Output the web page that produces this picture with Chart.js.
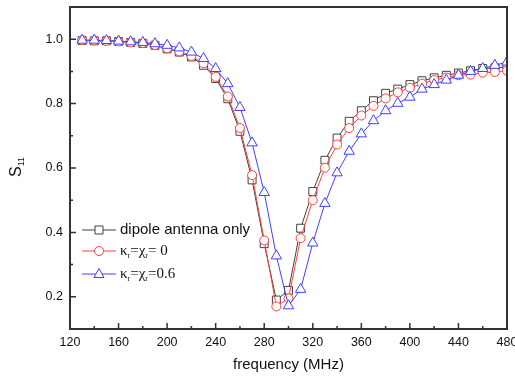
<!DOCTYPE html>
<html>
<head>
<meta charset="utf-8">
<script src="https://cdn.jsdelivr.net/npm/chart.js@4"></script>
<style>
  body { margin: 0; background: #fff; }
  #wrap { width: 515px; height: 377px; }
</style>
</head>
<body>
<div id="wrap"><canvas id="s11Chart" width="515" height="377"></canvas></div>
<script>
const freq = [130, 140, 150, 160, 170, 180, 190, 200, 210, 220, 230, 240, 250, 260, 270, 280, 290, 300,
  310, 320, 330, 340, 350, 360, 370, 380, 390, 400, 410, 420, 430, 440, 450, 460, 470, 480];
const dipoleOnly = [0.996, 0.995, 0.995, 0.993, 0.990, 0.987, 0.981, 0.970, 0.960, 0.945, 0.919, 0.878,
  0.815, 0.714, 0.563, 0.365, 0.190, 0.220, 0.413, 0.527, 0.624, 0.693, 0.745, 0.778, 0.809, 0.832,
  0.845, 0.859, 0.871, 0.880, 0.888, 0.895, 0.902, 0.909, 0.911, 0.914];
const kappaZero = [0.997, 0.996, 0.995, 0.993, 0.990, 0.988, 0.982, 0.972, 0.962, 0.948, 0.925, 0.883,
  0.822, 0.724, 0.578, 0.375, 0.170, 0.195, 0.382, 0.500, 0.601, 0.673, 0.724, 0.763, 0.793, 0.816,
  0.835, 0.849, 0.862, 0.873, 0.881, 0.888, 0.890, 0.896, 0.898, 0.902];
const kappaSix = [0.997, 0.997, 0.996, 0.994, 0.992, 0.990, 0.986, 0.981, 0.973, 0.960, 0.940, 0.909,
  0.862, 0.788, 0.678, 0.524, 0.327, 0.172, 0.223, 0.367, 0.490, 0.585, 0.652, 0.706, 0.747, 0.778,
  0.801, 0.820, 0.845, 0.859, 0.873, 0.888, 0.900, 0.909, 0.919, 0.929];

const xTicks = [120, 160, 200, 240, 280, 320, 360, 400, 440, 480];
const xMinor = [140, 180, 220, 260, 300, 340, 380, 420, 460];
const yTicks = [0.2, 0.4, 0.6, 0.8, 1.0];
const yMinor = [0.3, 0.5, 0.7, 0.9];

const BLACK = "#404040";
const RED = "#ff4040";
const BLUE = "#4040ff";
const AXIS = "#333";
const SANS = "'Liberation Sans', Arial, sans-serif";

function pts(vals) {
  return freq.map((f, i) => ({ x: f, y: vals[i] }));
}

function marker(ctx, style, x, y, color) {
  ctx.save();
  ctx.strokeStyle = color;
  ctx.fillStyle = "#fff";
  ctx.lineWidth = 1;
  ctx.beginPath();
  if (style === "rect") {
    ctx.rect(x - 4, y - 4, 8, 8);
  } else if (style === "circle") {
    ctx.arc(x, y, 4.5, 0, Math.PI * 2);
  } else {
    ctx.moveTo(x, y - 5.5);
    ctx.lineTo(x + 5, y + 3.5);
    ctx.lineTo(x - 5, y + 3.5);
    ctx.closePath();
  }
  ctx.fill();
  ctx.stroke();
  ctx.restore();
}

// text with subscripts: parts = [[text, isSub], ...]
function richText(ctx, parts, x, y, font, subFont) {
  parts.forEach(([t, sub]) => {
    ctx.font = sub ? subFont : font;
    ctx.fillText(t, x, sub ? y + 5 : y);
    x += ctx.measureText(t).width;
  });
}

const decorPlugin = {
  id: "decor",
  afterDatasetsDraw(chart) {
    const { ctx, chartArea: a, scales } = chart;
    const xs = scales.x, ys = scales.y;
    ctx.save();

    // frame
    ctx.strokeStyle = AXIS;
    ctx.lineWidth = 2;
    ctx.strokeRect(a.left, a.top, a.right - a.left, a.bottom - a.top);

    // inward ticks
    ctx.lineWidth = 1.5;
    ctx.beginPath();
    xTicks.forEach((v) => {
      const px = xs.getPixelForValue(v);
      ctx.moveTo(px, a.bottom); ctx.lineTo(px, a.bottom - 6);
    });
    xMinor.forEach((v) => {
      const px = xs.getPixelForValue(v);
      ctx.moveTo(px, a.bottom); ctx.lineTo(px, a.bottom - 3);
    });
    yTicks.forEach((v) => {
      const py = ys.getPixelForValue(v);
      ctx.moveTo(a.left, py); ctx.lineTo(a.left + 6, py);
    });
    yMinor.forEach((v) => {
      const py = ys.getPixelForValue(v);
      ctx.moveTo(a.left, py); ctx.lineTo(a.left + 3, py);
    });
    ctx.stroke();

    // legend
    const items = [
      { y: 230, color: BLACK, style: "rect" },
      { y: 251, color: RED, style: "circle" },
      { y: 274, color: BLUE, style: "triangle" },
    ];
    items.forEach((it) => {
      ctx.strokeStyle = it.color;
      ctx.lineWidth = 1;
      ctx.beginPath();
      ctx.moveTo(82, it.y); ctx.lineTo(116, it.y);
      ctx.stroke();
      marker(ctx, it.style, 99, it.y, it.color);
    });
    ctx.fillStyle = "#111";
    ctx.textBaseline = "middle";
    ctx.textAlign = "left";
    ctx.font = "15px " + SANS;
    ctx.fillText("dipole antenna only", 120, 230);
    const serif = "15px 'Liberation Serif', 'Times New Roman', serif";
    const serifSub = "8px 'Liberation Serif', 'Times New Roman', serif";
    richText(ctx, [["κ", false], ["r", true], ["=χ", false], ["r", true], ["= 0", false]], 120, 251, serif, serifSub);
    richText(ctx, [["κ", false], ["r", true], ["=χ", false], ["r", true], ["=0.6", false]], 120, 274, serif, serifSub);

    // axis titles
    ctx.textAlign = "center";
    ctx.font = "15px " + SANS;
    ctx.fillText("frequency (MHz)", (a.left + a.right) / 2, 365);

    ctx.translate(17, 168);
    ctx.rotate(-Math.PI / 2);
    ctx.textAlign = "left";
    richText(ctx, [["S", false], ["11", true]], -9, 0, "16px " + SANS, "9px " + SANS);
    ctx.restore();
  },
};

const tickFont = { family: SANS, size: 12.5 };

new Chart(document.getElementById("s11Chart"), {
  type: "line",
  data: {
    datasets: [
      {
        label: "dipole antenna only",
        data: pts(dipoleOnly),
        borderColor: BLACK,
        borderWidth: 1,
        pointStyle: "rect",
        pointRadius: 5.6,
        pointBorderColor: BLACK,
        pointBackgroundColor: "#fff",
        pointBorderWidth: 1,
        clip: 0,
        order: 2,
      },
      {
        label: "κr=χr= 0",
        data: pts(kappaZero),
        borderColor: RED,
        borderWidth: 1,
        pointStyle: "circle",
        pointRadius: 4.5,
        pointBorderColor: RED,
        pointBackgroundColor: "#fff",
        pointBorderWidth: 1,
        clip: 0,
        order: 1,
      },
      {
        label: "κr=χr=0.6",
        data: pts(kappaSix),
        borderColor: BLUE,
        borderWidth: 1,
        pointStyle: "triangle",
        pointRadius: 6,
        pointBorderColor: BLUE,
        pointBackgroundColor: "#fff",
        pointBorderWidth: 1,
        clip: 0,
        order: 0,
      },
    ],
  },
  options: {
    responsive: false,
    animation: false,
    layout: { padding: { top: 5, right: 8, left: 0, bottom: 0 } },
    plugins: { legend: { display: false }, tooltip: { enabled: false } },
    scales: {
      x: {
        type: "linear",
        min: 120,
        max: 480,
        grid: { display: false, drawTicks: false, tickLength: 0 },
        border: { display: false },
        afterBuildTicks: (s) => { s.ticks = xTicks.map((v) => ({ value: v })); },
        afterFit: (s) => { s.height = 48; s.paddingLeft = 0; s.paddingRight = 0; },
        ticks: { padding: 6, color: "#111", font: tickFont, maxRotation: 0 },
      },
      y: {
        min: 0.1,
        max: 1.1,
        grid: { display: false, drawTicks: false, tickLength: 0 },
        border: { display: false },
        afterBuildTicks: (s) => { s.ticks = yTicks.map((v) => ({ value: v })); },
        afterFit: (s) => { s.width = 70; s.paddingTop = 0; s.paddingBottom = 0; },
        ticks: {
          padding: 7,
          color: "#111",
          font: tickFont,
          callback: (v) => v.toFixed(1),
        },
      },
    },
  },
  plugins: [decorPlugin],
});
</script>
</body>
</html>
